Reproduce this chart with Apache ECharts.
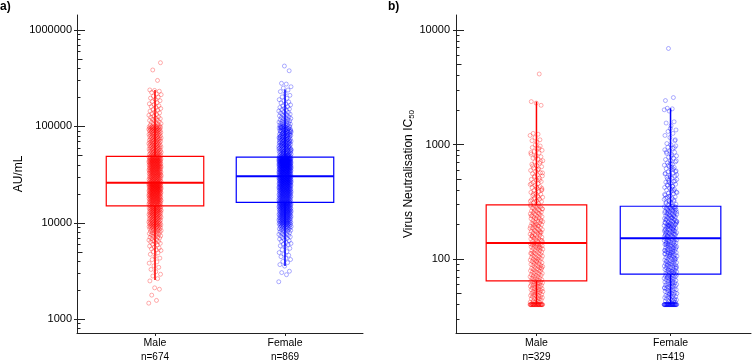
<!DOCTYPE html>
<html><head><meta charset="utf-8">
<script src="https://cdn.jsdelivr.net/npm/echarts@6/dist/echarts.min.js"></script>
<style>html,body{margin:0;padding:0;background:#fff}#c{width:752px;height:361px}</style>
</head><body><div id="c"></div>
<script>
const categories = ['Male', 'Female'];
const countsA = ['n=674', 'n=869'];
const countsB = ['n=329', 'n=419'];
const ticksA = [1000, 10000, 100000, 1000000];
const ticksB = [100, 1000, 10000];
// [lower whisker, Q1, median, Q3, upper whisker]
const boxA = [[2550, 15000, 26000, 49000, 239000], [3560, 16300, 30500, 48000, 242000]];
const boxB = [[40, 64.5, 138, 297, 2370], [40, 73.8, 152, 289, 2074]];

// a) AU/mL, Male (n=674)
const antibodyMale = [
1470,1570,1780,2050,2120,2500,
2640,2810,2930,3120,3290,3460,3580,3820,3940,4160,4310,4480,4720,4890,
5040,5170,5230,5360,5480,5610,5740,5920,6010,6130,
6240,6320,6410,6490,6620,6690,6840,6960,7010,7060,
7140,7260,7330,7460,7540,7630,7710,7740,7820,7890,
8010,8090,8160,8240,8310,8330,8420,8460,8540,8610,
8690,8760,8840,8910,8940,9010,9030,9110,9140,9210,
9260,9290,9360,9390,9460,9510,9540,9610,9640,9710,
9740,9810,9860,9890,9940,9970,
10020,10090,10110,10200,10230,10310,10340,10430,10470,10530,
10620,10640,10730,10790,10820,10910,10950,11040,11070,11150,
11190,11270,11310,11390,11450,11480,11570,11610,11690,11730,
11810,11870,11900,11990,12030,12110,12170,12210,12290,12330,
12410,12450,12540,12570,12650,12710,12740,12830,12870,12950,
12990,13070,13110,13190,13230,13310,13370,13410,13490,13530,
13610,13650,13740,13770,13850,13910,13940,14030,14070,14150,
14190,14270,14310,14390,14430,14510,14570,14610,14690,14730,
14820,14910,
15030,15120,15140,15240,15310,15370,15400,15510,15560,15630,
15690,15750,15800,15910,15940,16030,16070,16140,16200,16300,
16320,16410,16470,16530,16580,16680,16700,16810,16850,16930,
16980,17060,17090,17190,17250,17310,17360,17460,17480,17570,
17630,17700,17740,17840,17870,17970,18010,18100,18130,18230,
18280,18350,18400,18490,18540,18610,18670,18740,18800,18880,
18920,19020,19050,19150,19190,19280,19320,19400,19460,19530,
19590,19670,19710,19810,19840,19940,19990,20070,20120,20200,
20240,20340,20370,20470,20510,20600,20640,20720,20780,20850,
20910,20990,21030,21120,21160,21250,21290,21370,21430,21500,
21560,21640,21680,21770,21810,21900,21940,22020,22070,22150,
22200,22280,22320,22410,22450,22540,22580,22660,22710,22790,
22840,22920,22960,23050,23090,23180,23220,23300,23350,23430,
23480,23560,23600,23690,23730,23820,23860,23940,23990,24070,
24120,24200,24240,24330,24370,24460,24500,24580,24630,24710,
24760,24840,24880,24970,25010,25100,25140,25220,25270,25350,
25400,25480,25520,25610,25650,25740,25780,25860,25910,
26000,26060,26190,26290,26430,26560,26710,26800,26960,27070,
27100,27210,27340,27480,27590,27740,27840,28000,28110,28260,
28370,28510,28630,28780,28890,29040,29150,29310,29420,29570,
29680,29830,29950,30100,30210,30360,30400,30480,30630,30740,
30890,31010,31160,31270,31430,31540,31690,31810,31960,32070,
32230,32340,32500,32610,32770,32880,33040,33150,33310,33420,
33500,33580,33700,33860,33970,34130,34240,34400,34510,34670,
34790,34950,35060,35220,35340,35500,35610,35770,35890,36050,
36160,36320,36440,36600,36720,36880,36990,37150,37270,37430,
37550,37710,37820,37980,38000,38100,38260,38380,38540,38660,
38820,38940,39100,39220,39380,39500,39660,39780,39950,40070,
40230,40350,40510,40640,40800,40920,41080,41210,41370,41490,
41660,41780,41940,42070,42230,42360,42520,42650,42810,42940,
43100,43230,43400,43530,43690,43820,43990,44000,44120,44280,
44410,44580,44710,44880,45010,45180,45310,45480,45610,45780,
45910,46080,46210,46390,46520,46690,46830,47000,47130,47310,
47440,47620,47750,47930,48070,48250,48380,48570,48850,
49100,49400,49800,50100,50300,50500,50900,51200,51600,52000,
52300,52500,52700,53100,53500,53900,54200,54300,54700,55100,
55500,55900,56100,56300,56800,57200,57600,58100,58300,58500,
59000,59400,59900,60200,60300,60800,61300,61700,62200,62400,
62700,63200,63700,64100,64200,64700,65200,65700,66200,66500,
66800,67300,67800,68200,68400,68900,69500,70100,70300,70600,
71200,71800,72100,72400,73000,73600,74200,74400,74800,75500,
76100,76300,76700,77400,78000,78400,78700,79400,80100,80200,
80800,81500,82200,82600,82900,83600,84100,84300,85100,85800,
86300,86600,87400,88200,88500,89000,89800,90200,90600,91200,
91400,92200,92500,93100,93400,93900,94300,94800,95200,95700,
96100,96600,97300,97500,98200,98400,99100,99300,99700,99900,
100800,102300,103100,105200,106400,107100,109300,110600,111800,113900,
115200,116700,118600,120300,121900,124400,125800,128300,130600,132700,
135400,138200,140700,144100,147600,149800,153400,156900,160300,163800,
168400,171600,176300,181200,184900,190400,196700,201300,205800,213600,
216900,224700,231800,236200,239000,
300000,385000,458000
];

// a) AU/mL, Female (n=869)
const antibodyFemale = [
2450,2900,3050,3150,
3560,3690,3870,3980,4170,4290,4460,4610,4740,4920,
5030,5260,5440,5670,5790,5960,6000,6110,6240,6420,
6530,6660,6790,6910,7040,7170,7200,7290,7410,7520,
7590,7710,7790,7910,8020,8090,8210,8240,8360,8440,
8520,8550,8610,8670,8760,8810,8890,8960,9020,9050,
9110,9170,9230,9290,9340,9410,9440,9510,9560,9620,
9660,9710,9740,9790,9830,9870,9900,9940,9960,9990,
10010,10080,10110,10170,10210,10260,10280,10350,10390,10420,
10480,10510,10570,10620,10640,10710,10730,10800,10820,10890,
10930,10960,11020,11070,11090,11160,11180,11250,11290,11320,
11380,11410,11470,11520,11540,11610,11630,11700,11740,11770,
11830,11860,11920,11970,11990,12060,12080,12150,12190,12220,
12280,12310,12370,12420,12440,12510,12530,12600,12640,12670,
12730,12760,12820,12870,12890,12960,12980,13050,13090,13120,
13180,13210,13270,13320,13340,13410,13430,13500,13540,13570,
13630,13660,13720,13770,13790,13860,13880,13950,13990,14020,
14080,14110,14170,14220,14240,14310,14330,14400,14440,14470,
14530,14560,14620,14670,14690,14760,14780,14850,14890,14920,
14980,15010,15070,15120,15140,15210,15230,15300,15340,15370,
15430,15460,15520,15570,15590,15660,15680,15750,15790,15820,
15880,15910,15970,16020,16040,16110,16130,16200,16240,16270,
16280,16290,16300,
16340,16430,16470,16560,16600,16690,16730,16820,16860,16950,
16990,17080,17120,17210,17250,17340,17380,17470,17510,17600,
17640,17730,17770,17860,17900,17990,18030,18120,18160,18250,
18290,18380,18420,18510,18550,18640,18680,18770,18810,18900,
18940,19030,19070,19160,19200,19290,19330,19420,19460,19550,
19590,19680,19720,19810,19850,19940,19980,20070,20110,20200,
20240,20330,20370,20460,20500,20590,20630,20720,20760,20850,
20890,20980,21020,21110,21150,21240,21280,21370,21410,21500,
21540,21630,21670,21760,21800,21890,21930,22020,22060,22150,
22190,22280,22320,22410,22450,22540,22580,22670,22710,22800,
22840,22930,22970,23060,23100,23190,23230,23320,23360,23450,
23490,23580,23620,23710,23750,23840,23880,23970,24010,24100,
24140,24230,24270,24360,24400,24490,24530,24620,24660,24750,
24790,24880,24920,25010,25050,25140,25180,25270,25310,25400,
25440,25530,25570,25660,25700,25790,25830,25920,25960,26050,
26090,26180,26220,26310,26350,26440,26480,26570,26610,26700,
26740,26830,26870,26960,27000,27090,27130,27220,27260,27350,
27390,27480,27520,27610,27650,27740,27780,27870,27910,28000,
28040,28130,28170,28260,28300,28390,28430,28520,28560,28650,
28690,28780,28820,28910,28950,29040,29080,29170,29210,29300,
29340,29430,29470,29560,29600,29690,29730,29820,29860,29950,
29990,30080,30120,30210,30250,30340,30460,
30560,30610,30730,30790,30880,30970,31010,31140,31190,31280,
31370,31420,31540,31590,31680,31770,31820,31940,31990,32080,
32170,32220,32340,32390,32480,32570,32620,32740,32790,32880,
32970,33020,33140,33190,33280,33370,33420,33540,33590,33680,
33770,33820,33940,33990,34080,34170,34220,34340,34390,34480,
34570,34620,34740,34790,34880,34970,35020,35140,35190,35280,
35370,35420,35540,35590,35680,35770,35820,35940,35990,36080,
36170,36220,36340,36390,36480,36570,36620,36740,36790,36880,
36970,37020,37140,37190,37280,37370,37420,37540,37590,37680,
37770,37820,37940,37990,38080,38170,38220,38340,38390,38480,
38570,38620,38740,38790,38880,38970,39020,39140,39190,39280,
39370,39420,39540,39590,39680,39770,39820,39940,39990,40080,
40170,40220,40340,40390,40480,40570,40620,40740,40790,40880,
40970,41020,41140,41190,41280,41370,41420,41540,41590,41680,
41770,41820,41940,41990,42080,42170,42220,42340,42390,42480,
42570,42620,42740,42790,42880,42970,43020,43140,43190,43280,
43370,43420,43540,43590,43680,43770,43820,43940,43990,44080,
44170,44220,44340,44390,44480,44570,44620,44740,44790,44880,
44970,45020,45140,45190,45280,45370,45420,45540,45590,45680,
45770,45820,45940,45990,46080,46170,46220,46340,46390,46480,
46570,46620,46740,46790,46880,46970,47020,47140,47190,47280,
47370,47420,47540,47590,47680,47820,47960,
48100,48300,48500,48800,49000,49200,49500,49700,50000,50200,
50500,50700,51000,51300,51500,51800,52100,52300,52600,52900,
53200,53400,53700,54000,54300,54600,54900,55200,55500,55800,
56100,56400,56700,57000,57300,57700,58000,58300,58600,59000,
59300,59600,60000,60300,60700,61000,61400,61700,62100,62400,
62800,63200,63500,63900,64300,64700,65000,65400,65800,66200,
66600,67000,67400,67800,68200,68600,69100,69500,69900,70300,
70800,71200,71700,72100,72600,73000,73500,73900,74400,74900,
75400,75800,76300,76800,77300,77800,78300,78900,79400,79900,
80400,81000,81500,82000,82600,83100,83700,84300,84800,85400,
86000,86600,87200,87800,88400,89000,89700,90300,90900,91600,
92200,92900,93500,94200,94900,95600,96300,97000,97700,98400,
99100,99800,49900,52700,55700,59900,63100,67300,71500,75600,
79700,83900,88100,92600,96900,50800,54700,58800,62900,66900,
70900,74700,78600,82300,86300,90100,93900,97900,61200,65600,
69300,73300,77500,81700,85700,89400,95400,99500,57500,53000,
100400,101200,102100,102900,103800,104600,105700,106500,107600,108400,
109700,110800,111900,113200,114300,115600,116800,118100,119500,120900,
122300,123800,125400,127000,128600,130300,132100,134000,135900,137800,
139900,142100,144300,146700,149200,151800,154500,157400,160500,163700,
167200,171000,175000,179400,184200,189600,195500,202300,210100,219400,
229800,238600,
250000,258000,275000,280000,378000,423000
];

// b) Virus neutralisation IC50, Male (n=329)
const neutMale = [
40,40,40,40,40,40,40,40,40,40,40,40,40,40,40,40,40,40,40,40,40,40,40,40,40,40,40,40,40,40,
41,41,42,42,42,43,43,44,44,45,
45,45,46,46,47,47,48,48,48,49,
49,50,50,51,51,52,52,52,53,53,
54,54,55,55,56,56,57,57,58,58,
59,59,60,60,61,61,62,62,63,63,
64,64,
65,66,66,67,68,68,69,70,70,71,
72,72,73,74,75,75,76,77,78,78,
79,80,81,82,82,83,84,85,86,87,
88,88,89,90,91,92,93,94,95,96,
97,98,99,100,101,102,103,104,105,106,
107,108,110,111,112,113,114,115,117,118,
119,120,122,123,124,125,127,128,129,130,
131,132,133,134,135,136,137,137,84,96,112,126,
139,141,143,144,146,148,150,151,153,155,
157,159,161,163,165,167,169,171,173,175,
177,179,181,184,186,188,190,193,195,197,
200,202,205,207,210,212,215,217,220,223,
225,228,231,234,236,239,242,245,248,251,
254,257,260,263,266,270,273,276,279,283,
286,290,293,296,145,152,160,168,176,185,
194,204,214,226,238,250,262,275,288,156,
172,198,
298,306,309,317,321,329,333,341,346,354,
359,368,373,382,388,397,403,413,419,430,
437,448,455,467,475,487,496,509,518,532,
542,556,567,582,594,610,623,640,654,672,
687,706,722,743,760,782,800,823,843,868,
890,917,941,970,995,320,345,372,398,425,
455,490,530,565,600,650,710,780,850,930,
335,415,
1050,1080,1100,1150,1200,1230,1250,2200,2300,2370,
4130
];

// b) Virus neutralisation IC50, Female (n=419)
const neutFemale = [
40,40,40,40,40,40,40,40,40,40,40,40,40,40,40,40,40,40,40,40,40,40,40,40,40,40,40,40,40,40,40,40,40,40,40,
41,41,42,42,43,43,43,44,44,45,
45,46,46,47,47,47,48,48,49,49,
50,50,51,51,52,52,53,53,54,54,
55,55,56,56,57,57,58,58,59,59,
60,60,61,61,62,62,63,64,64,65,
65,66,67,67,68,68,69,70,70,71,
71,72,72,73,73,44,50,56,62,69,
74,75,75,76,77,77,78,79,79,80,
81,81,82,83,84,84,85,86,87,88,
88,89,90,91,92,92,93,94,95,96,
97,98,99,100,101,102,103,104,105,106,
107,108,109,110,111,112,113,114,115,116,
117,118,119,120,121,122,123,125,126,127,
128,129,131,132,133,134,136,137,138,140,
141,142,144,145,146,148,149,150,151,76,
80,86,91,96,101,106,111,116,121,126,
130,135,139,143,147,78,89,99,109,119,
124,133,84,113,137,
153,155,157,158,160,162,163,165,167,169,
170,172,174,176,178,180,182,184,186,188,
190,192,194,196,198,200,202,205,207,209,
211,214,216,218,221,223,226,228,231,233,
236,238,241,244,246,249,252,255,258,261,
264,267,270,273,276,279,282,285,288,159,
166,173,181,189,197,206,215,224,234,243,
253,263,274,284,156,171,185,199,213,229,
247,266,280,161,177,193,210,227,
154,164,168,175,183,191,201,204,219,239,251,257,269,277,286,195,208,
291,298,301,309,312,320,324,332,336,344,
349,357,362,371,376,385,391,400,406,416,
422,433,439,450,457,469,476,488,496,509,
517,530,540,553,563,578,588,603,615,631,
643,660,673,691,705,724,739,759,775,796,
814,836,855,879,899,924,946,973,995,305,
328,352,380,410,445,480,520,560,610,660,
720,790,860,940,316,366,430,500,580,680,
340,395,470,545,630,
1020,1080,1150,1200,1250,1300,1340,1460,1540,1580,1960,2010,2050,2074,1100,1380,
2420,2570,6900
];

const FONT = "'Liberation Sans', Arial, Helvetica, sans-serif";
const RED = '#ff0000', BLUE = '#0000ff';
const boxColors = [RED, BLUE];
const pointColors = ['rgba(255,0,0,0.5)', 'rgba(0,0,255,0.5)'];
const AXIS = '#222';

const rangeA = [721, 1431000];
const rangeB = [22.6, 13520];

function decadeTicks(range, ks) {
  const out = [];
  const e0 = Math.floor(Math.log10(range[0])), e1 = Math.floor(Math.log10(range[1]));
  for (let e = e0; e <= e1; e++) {
    const d = Math.pow(10, e);
    ks.forEach(k => { const v = Math.round(k * d * 1000) / 1000; if (v >= range[0] && v <= range[1]) out.push(v); });
  }
  return out;
}

const jitter = i => (((i * 0.6180339887) % 1) - 0.5) * 0.096;

function yAxes(grid, range, majors, name, nameGap, labelMargin, nameRich) {
  const base = { type: 'log', logBase: 10, gridIndex: grid, min: range[0], max: range[1], position: 'left', offset: 0,
    splitLine: { show: false }, axisPointer: { show: false } };
  return [
    Object.assign({}, base, {
      axisLine: { show: true, onZero: false, lineStyle: { color: AXIS, width: 1 } },
      axisTick: { show: true, inside: false, length: 3, customValues: majors, lineStyle: { color: AXIS, width: 1 } },
      axisLabel: { show: true, customValues: majors, margin: labelMargin, fontSize: 11, fontFamily: FONT, color: '#000',
        formatter: v => String(Math.round(v)) },
      name: name, nameLocation: 'middle', nameGap: nameGap,
      nameTextStyle: { fontSize: 12, fontFamily: FONT, color: '#000', lineHeight: 14, rich: nameRich || {} }
    }),
    Object.assign({}, base, {
      axisLine: { show: false }, axisLabel: { show: false },
      axisTick: { show: true, inside: true, length: 8, customValues: majors, lineStyle: { color: AXIS, width: 1 } }
    }),
    Object.assign({}, base, {
      axisLine: { show: false }, axisLabel: { show: false },
      axisTick: { show: true, inside: true, length: 3.5, customValues: decadeTicks(range, [2, 3, 4, 6, 7, 8, 9]), lineStyle: { color: AXIS, width: 1 } }
    }),
    Object.assign({}, base, {
      axisLine: { show: false }, axisLabel: { show: false },
      axisTick: { show: true, inside: true, length: 5.5, customValues: decadeTicks(range, [5]), lineStyle: { color: AXIS, width: 1 } }
    })
  ];
}

function xAxis(grid, counts) {
  return {
    type: 'value', gridIndex: grid, min: 0.4, max: 2.6, splitLine: { show: false }, axisPointer: { show: false },
    axisLine: { show: true, onZero: false, lineStyle: { color: AXIS, width: 1 } },
    axisTick: { show: true, inside: false, length: 3, customValues: [1, 2], lineStyle: { color: AXIS } },
    axisLabel: {
      show: true, customValues: [1, 2], margin: 3, color: '#000', fontFamily: FONT,
      formatter: v => { const i = Math.round(v) - 1; return '{c|' + categories[i] + '}\n{n|' + counts[i] + '}'; },
      rich: { c: { fontSize: 10.5, lineHeight: 14, fontFamily: FONT, color: '#000' }, n: { fontSize: 10, lineHeight: 14, fontFamily: FONT, color: '#000' } }
    }
  };
}

function boxRenderer(params, api) {
  const x = api.value(0);
  const lo = api.value(1), q1 = api.value(2), md = api.value(3), q3 = api.value(4), hi = api.value(5);
  const h = 0.375;
  const tl = api.coord([x - h, q3]), br = api.coord([x + h, q1]);
  const ml = api.coord([x - h, md]), mr = api.coord([x + h, md]);
  const pHi = api.coord([x, hi]), pQ3 = api.coord([x, q3]), pQ1 = api.coord([x, q1]), pLo = api.coord([x, lo]);
  const c = boxColors[params.dataIndex];
  return { type: 'group', children: [
    { type: 'line', shape: { x1: pHi[0], y1: pHi[1], x2: pQ3[0], y2: pQ3[1] }, style: { stroke: c, lineWidth: 1.5 } },
    { type: 'line', shape: { x1: pQ1[0], y1: pQ1[1], x2: pLo[0], y2: pLo[1] }, style: { stroke: c, lineWidth: 1.5 } },
    { type: 'rect', shape: { x: tl[0], y: tl[1], width: br[0] - tl[0], height: br[1] - tl[1] }, style: { fill: 'none', stroke: c, lineWidth: 1.2 } },
    { type: 'line', shape: { x1: ml[0], y1: ml[1], x2: mr[0], y2: mr[1] }, style: { stroke: c, lineWidth: 2 } }
  ] };
}

function points(values, cat, xi, yi) {
  return {
    type: 'scatter', xAxisIndex: xi, yAxisIndex: yi, silent: true, z: 2,
    data: values.map((v, i) => [cat + 1 + jitter(i), v]),
    symbol: 'circle', symbolSize: 4,
    itemStyle: { color: 'rgba(0,0,0,0)', borderColor: pointColors[cat], borderWidth: 0.8 }
  };
}

const chart = echarts.init(document.getElementById('c'), null, { renderer: 'canvas' });
chart.setOption({
  animation: false,
  backgroundColor: '#fff',
  grid: [
    { left: 77, top: 15, width: 286, height: 318, outerBoundsMode: 'none', containLabel: false },
    { left: 456, top: 15, width: 295, height: 318, outerBoundsMode: 'none', containLabel: false }
  ],
  xAxis: [xAxis(0, countsA), xAxis(1, countsB)],
  yAxis: [].concat(
    yAxes(0, rangeA, ticksA, 'AU/mL', 47, 5),
    yAxes(1, rangeB, ticksB, 'Virus Neutralisation IC{s|50}', 40, 6,
      { s: { fontSize: 8, fontFamily: FONT, color: '#000', lineHeight: 8, verticalAlign: 'bottom' } })
  ),
  series: [
    points(antibodyMale, 0, 0, 0),
    points(antibodyFemale, 1, 0, 0),
    points(neutMale, 0, 1, 4),
    points(neutFemale, 1, 1, 4),
    { type: 'custom', xAxisIndex: 0, yAxisIndex: 0, z: 3, silent: true, renderItem: boxRenderer,
      encode: { x: 0, y: [1, 2, 3, 4, 5] }, data: boxA.map((b, i) => [i + 1].concat(b)) },
    { type: 'custom', xAxisIndex: 1, yAxisIndex: 4, z: 3, silent: true, renderItem: boxRenderer,
      encode: { x: 0, y: [1, 2, 3, 4, 5] }, data: boxB.map((b, i) => [i + 1].concat(b)) }
  ],
  graphic: [
    { type: 'text', left: 0, top: 1, style: { text: 'a)', font: 'bold 12px ' + FONT, fill: '#000' } },
    { type: 'text', left: 388, top: 1, style: { text: 'b)', font: 'bold 12px ' + FONT, fill: '#000' } }
  ]
});
</script>
</body></html>
